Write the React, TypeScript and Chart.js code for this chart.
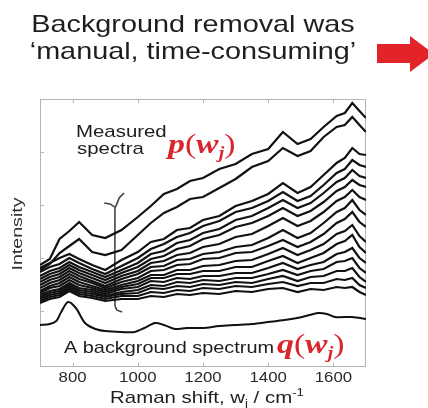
import { useEffect, useRef } from "react";
import { Chart, registerables } from "chart.js";

Chart.register(...registerables);

// Raman shift sample positions (cm^-1) shared by the measured spectra
const wavenumbers = [700, 730, 760, 790, 820, 860, 900, 950, 1000, 1040, 1080, 1120, 1160, 1200, 1250, 1300, 1350, 1400, 1445, 1490, 1530, 1570, 1610, 1635, 1658, 1680, 1700];

// Measured spectra p(w_j), intensity in arbitrary units
const spectrum01 = [102, 108, 128, 136, 145, 132, 129, 137, 150, 161, 173, 178, 186, 189, 198, 203, 213, 218, 235, 223, 228, 240, 251, 254, 264, 256, 249];
const spectrum02 = [97, 103, 114, 121, 128, 115, 112, 117, 132, 144, 154, 160, 168, 170, 179, 188, 200, 206, 219, 211, 216, 230, 240, 242, 250, 242, 235];
const spectrum03 = [99, 104, 109, 113, 108, 102, 97, 107, 115, 125, 128, 137, 139, 147, 151, 161, 166, 173, 184, 174, 180, 192, 204, 209, 219, 213, 212];
const spectrum04 = [95, 100, 103, 109, 104, 98, 93, 101, 109, 118, 123, 130, 134, 141, 146, 155, 159, 166, 175, 166, 171, 182, 194, 198, 207, 202, 200];
const spectrum05 = [91, 96, 99, 105, 100, 95, 90, 97, 104, 113, 116, 124, 127, 134, 138, 147, 151, 159, 167, 159, 164, 174, 185, 189, 197, 191, 189];
const spectrum06 = [88, 93, 96, 102, 97, 92, 87, 94, 100, 108, 111, 118, 121, 128, 132, 140, 144, 151, 159, 151, 156, 165, 176, 180, 187, 182, 180];
const spectrum07 = [85, 90, 93, 99, 94, 89, 84, 91, 96, 104, 106, 112, 114, 120, 123, 130, 133, 141, 149, 141, 146, 155, 166, 170, 177, 170, 167];
const spectrum08 = [82, 87, 90, 96, 91, 86, 81, 88, 93, 100, 101, 107, 108, 113, 115, 120, 122, 129, 137, 129, 134, 144, 155, 159, 167, 157, 152];
const spectrum09 = [79, 84, 87, 93, 88, 84, 79, 85, 89, 96, 97, 102, 103, 108, 109, 114, 115, 121, 127, 120, 125, 133, 144, 148, 155, 145, 140];
const spectrum10 = [76, 81, 84, 90, 85, 81, 77, 82, 86, 92, 92, 97, 97, 101, 102, 106, 107, 113, 119, 112, 117, 123, 133, 136, 142, 131, 125];
const spectrum11 = [74, 79, 81, 87, 82, 79, 75, 80, 83, 89, 89, 93, 93, 96, 96, 100, 100, 106, 111, 104, 109, 114, 123, 126, 132, 120, 114];
const spectrum12 = [72, 76, 78, 84, 79, 77, 73, 78, 80, 86, 85, 89, 88, 91, 91, 94, 94, 99, 104, 98, 102, 105, 113, 115, 119, 109, 104];
const spectrum13 = [70, 74, 76, 82, 77, 75, 71, 75, 77, 82, 81, 85, 84, 87, 86, 89, 89, 93, 97, 92, 96, 98, 105, 106, 109, 99, 94];
const spectrum14 = [68, 72, 74, 80, 75, 73, 70, 73, 74, 79, 78, 81, 80, 83, 82, 85, 84, 88, 91, 86, 90, 91, 96, 96, 99, 90, 85];
const spectrum15 = [66, 70, 72, 78, 73, 71, 68, 71, 71, 75, 74, 77, 76, 79, 78, 81, 80, 83, 85, 81, 84, 84, 88, 87, 89, 82, 79];
const spectrum16 = [64, 68, 70, 76, 71, 69, 66, 68, 68, 71, 70, 73, 72, 74, 73, 76, 75, 78, 79, 75, 78, 77, 80, 79, 80, 75, 72];

// Background spectrum q(w_j)
const backgroundShift = [700, 730, 750, 765, 786, 810, 838, 870, 900, 950, 990, 1020, 1053, 1080, 1114, 1150, 1200, 1250, 1300, 1350, 1400, 1450, 1504, 1553, 1580, 1605, 1657, 1700];
const backgroundIntensity = [42, 43, 46, 55, 65, 59, 44, 38, 36, 35, 35, 39, 44, 42, 38, 39, 39, 41, 42, 43, 45, 47, 50, 54, 53, 50, 50, 48];

// Brace marking the range of the measured spectra (null = gap)
const braceShift = [958, 943, 931, 915, 897, null, 930, 930, 936, 952];
const braceIntensity = [174, 169, 160, 163, 164, null, 160, 62, 57, 55];

// Axes
const xMin = 700;
const xMax = 1700;
const yMin = 0;
const yMax = 268;
const xTickLabels = [800, 1000, 1200, 1400, 1600];
const yTickValues = [56, 109, 162, 215];

const measuredSpectra = [spectrum01, spectrum02, spectrum03, spectrum04, spectrum05, spectrum06, spectrum07, spectrum08, spectrum09, spectrum10, spectrum11, spectrum12, spectrum13, spectrum14, spectrum15, spectrum16];

const SANS = '"Liberation Sans", Arial, sans-serif';
const SERIF = '"Liberation Serif", "Times New Roman", serif';
const RED = "#d9262d";
const SX = 1.2;

type Run = { text: string; font: string; dy?: number; color?: string };

function drawRuns(ctx: CanvasRenderingContext2D, runs: Run[], x: number, y: number, align: "left" | "center", sx: number, defaultColor: string) {
  ctx.save();
  let total = 0;
  const widths: number[] = [];
  for (const r of runs) {
    ctx.font = r.font;
    const w = ctx.measureText(r.text).width;
    widths.push(w);
    total += w;
  }
  const start = align === "center" ? x - (total * sx) / 2 : x;
  ctx.translate(start, y);
  ctx.scale(sx, 1);
  ctx.textAlign = "left";
  ctx.textBaseline = "alphabetic";
  let cx = 0;
  runs.forEach((r, i) => {
    ctx.font = r.font;
    ctx.fillStyle = r.color || defaultColor;
    ctx.fillText(r.text, cx, r.dy || 0);
    cx += widths[i];
  });
  ctx.restore();
}

const decorPlugin = {
  id: "decor",
  beforeDatasetsDraw(chart: any) {
    const { ctx, chartArea } = chart;
    const xs = chart.scales.x;
    const ys = chart.scales.y;
    ctx.save();
    ctx.strokeStyle = "#b4b4b4";
    ctx.lineWidth = 1;
    ctx.strokeRect(chartArea.left + 0.5, chartArea.top + 0.5, chartArea.right - chartArea.left - 1, chartArea.bottom - chartArea.top - 1);
    ctx.beginPath();
    for (const v of xTickLabels) {
      const px = Math.round(xs.getPixelForValue(v)) + 0.5;
      ctx.moveTo(px, chartArea.top);
      ctx.lineTo(px, chartArea.top + 4);
      ctx.moveTo(px, chartArea.bottom);
      ctx.lineTo(px, chartArea.bottom - 4);
    }
    for (const v of yTickValues) {
      const py = Math.round(ys.getPixelForValue(v)) + 0.5;
      ctx.moveTo(chartArea.left, py);
      ctx.lineTo(chartArea.left + 4, py);
    }
    ctx.stroke();
    ctx.restore();
  },
  afterDraw(chart: any) {
    const { ctx, chartArea } = chart;
    const xs = chart.scales.x;

    // Title
    drawRuns(ctx, [{ text: "Background removal was", font: `24px ${SANS}` }], 193, 32, "center", SX, "#1e1e1e");
    drawRuns(ctx, [{ text: "\u2018manual, time-consuming\u2019", font: `24px ${SANS}` }], 193, 59, "center", SX, "#1e1e1e");

    // Red arrow
    ctx.save();
    ctx.fillStyle = "#e3232a";
    ctx.beginPath();
    ctx.moveTo(377, 44);
    ctx.lineTo(410, 44);
    ctx.lineTo(410, 36);
    ctx.lineTo(434, 54);
    ctx.lineTo(410, 72);
    ctx.lineTo(410, 63);
    ctx.lineTo(377, 63);
    ctx.closePath();
    ctx.fill();
    ctx.restore();

    // Tick labels
    for (const v of xTickLabels) {
      const px = xs.getPixelForValue(v);
      drawRuns(ctx, [{ text: String(v), font: `14px ${SANS}` }], px, 382, "center", SX, "#2a2a2a");
    }

    // Axis titles
    drawRuns(
      ctx,
      [
        { text: "Raman shift, w", font: `17px ${SANS}` },
        { text: "j", font: `11px ${SANS}`, dy: 4 },
        { text: " / cm", font: `17px ${SANS}` },
        { text: "-1", font: `11px ${SANS}`, dy: -7 },
      ],
      (chartArea.left + chartArea.right) / 2 + 4,
      403,
      "center",
      SX,
      "#1e1e1e"
    );
    ctx.save();
    ctx.translate(22, 234);
    ctx.rotate(-Math.PI / 2);
    ctx.scale(1.4, 1);
    ctx.font = `14px ${SANS}`;
    ctx.fillStyle = "#333";
    ctx.textAlign = "center";
    ctx.fillText("Intensity", 0, 0);
    ctx.restore();

    // Annotations
    drawRuns(ctx, [{ text: "Measured", font: `17px ${SANS}` }], 76, 137, "left", SX, "#1e1e1e");
    drawRuns(ctx, [{ text: "spectra", font: `17px ${SANS}` }], 77, 154, "left", SX, "#1e1e1e");
    drawRuns(ctx, [{ text: "A background spectrum", font: `17px ${SANS}` }], 64, 353, "left", 1.17, "#1e1e1e");
    drawRuns(
      ctx,
      [
        { text: "p", font: `italic bold 27px ${SERIF}` },
        { text: "(", font: `27px ${SERIF}` },
        { text: "w", font: `italic bold 27px ${SERIF}` },
        { text: "j", font: `italic bold 16px ${SERIF}`, dy: 5 },
        { text: ")", font: `27px ${SERIF}` },
      ],
      168,
      153,
      "left",
      1.25,
      RED
    );
    drawRuns(
      ctx,
      [
        { text: "q", font: `italic bold 27px ${SERIF}` },
        { text: "(", font: `27px ${SERIF}` },
        { text: "w", font: `italic bold 27px ${SERIF}` },
        { text: "j", font: `italic bold 16px ${SERIF}`, dy: 5 },
        { text: ")", font: `27px ${SERIF}` },
      ],
      277,
      353,
      "left",
      1.25,
      RED
    );
  },
};

export default function App() {
  const canvasRef = useRef<HTMLCanvasElement | null>(null);

  useEffect(() => {
    if (!canvasRef.current) return;
    const datasets: any[] = measuredSpectra.map((s) => ({
      data: wavenumbers.map((w, i) => ({ x: w, y: s[i] })),
      borderColor: "#111",
      borderWidth: 2.2,
      pointRadius: 0,
      tension: 0,
      fill: false,
    }));
    datasets.push({
      data: backgroundShift.map((w, i) => ({ x: w, y: backgroundIntensity[i] })),
      borderColor: "#111",
      borderWidth: 2,
      pointRadius: 0,
      tension: 0.3,
      fill: false,
    });
    datasets.push({
      data: braceShift.map((w, i) => ({ x: w, y: braceIntensity[i] })),
      borderColor: "#444",
      borderWidth: 1.6,
      pointRadius: 0,
      tension: 0.2,
      spanGaps: false,
      fill: false,
    });

    const chart = new Chart(canvasRef.current, {
      type: "line",
      data: { datasets },
      options: {
        responsive: false,
        animation: false,
        parsing: false as any,
        normalized: true,
        layout: { padding: { left: 40, top: 99, right: 62, bottom: 41 } },
        plugins: { legend: { display: false }, title: { display: false }, tooltip: { enabled: false } },
        scales: {
          x: { type: "linear", min: xMin, max: xMax, display: false },
          y: { type: "linear", min: yMin, max: yMax, display: false },
        },
      },
      plugins: [decorPlugin],
    });
    return () => chart.destroy();
  }, []);

  return (
    <div style={{ position: "absolute", left: 0, top: 0, width: 428, height: 408, background: "#fff" }}>
      <canvas ref={canvasRef} width={428} height={408} style={{ width: 428, height: 408, display: "block" }} />
    </div>
  );
}
